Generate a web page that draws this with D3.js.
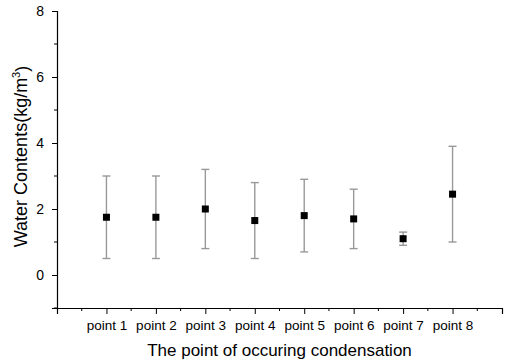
<!DOCTYPE html>
<html>
<head>
<meta charset="utf-8">
<script src="https://cdn.jsdelivr.net/npm/d3@7"></script>
<style>
  body { margin: 0; background: #fff; }
  text { font-family: "Liberation Sans", Arial, sans-serif; fill: #000; }
</style>
</head>
<body>
<svg id="chart" width="508" height="362"></svg>
<script>
const categories = ["point 1", "point 2", "point 3", "point 4", "point 5", "point 6", "point 7", "point 8"];
const means = [1.75, 1.75, 2.0, 1.65, 1.8, 1.7, 1.1, 2.45];
const lows = [0.5, 0.5, 0.8, 0.5, 0.7, 0.8, 0.9, 1.0];
const highs = [3.0, 3.0, 3.2, 2.8, 2.9, 2.6, 1.3, 3.9];
const yTicks = [0, 2, 4, 6, 8];

const margin = { top: 11, right: 6, bottom: 54, left: 57 };
const width = 508, height = 362;

const svg = d3.select("#chart");

const x = d3.scaleLinear().domain([0, 9]).range([margin.left, width - margin.right]);
const y = d3.scaleLinear().domain([-1, 8]).range([height - margin.bottom, margin.top]);

const points = categories.map((c, i) => ({ name: c, pos: i + 1, mean: means[i], lo: lows[i], hi: highs[i] }));

// x axis: major ticks at every integer, labels only for the categories
const xAxis = svg.append("g").attr("transform", `translate(0,${y(-1)})`);
xAxis.call(
  d3.axisBottom(x)
    .tickValues(d3.range(0, 10))
    .tickSize(6)
    .tickFormat((d) => (d >= 1 && d <= 8 ? categories[d - 1] : ""))
);
xAxis.selectAll("text").attr("font-size", 13.5).attr("dy", "0.95em");
xAxis.append("g")
  .selectAll("line")
  .data(d3.range(0.5, 9, 1))
  .join("line")
  .attr("x1", (d) => x(d))
  .attr("x2", (d) => x(d))
  .attr("y1", 0)
  .attr("y2", 3)
  .attr("stroke", "#000");

// y axis
const yAxis = svg.append("g").attr("transform", `translate(${x(0)},0)`);
yAxis.call(d3.axisLeft(y).tickValues(yTicks).tickSize(5).tickFormat(d3.format("d")));
yAxis.selectAll("text").attr("font-size", 14).attr("dx", "-0.35em");
yAxis.append("g")
  .selectAll("line")
  .data([-1, 1, 3, 5, 7])
  .join("line")
  .attr("x1", 0)
  .attr("x2", -3)
  .attr("y1", (d) => y(d))
  .attr("y2", (d) => y(d))
  .attr("stroke", "#000");

svg.selectAll(".domain").attr("stroke", "#000").attr("stroke-width", 1.2);
svg.selectAll(".tick line").attr("stroke", "#000");

// error bars
const bars = svg.append("g").attr("stroke", "#999").attr("stroke-width", 1.4);
bars.selectAll(".stem")
  .data(points)
  .join("line")
  .attr("class", "stem")
  .attr("x1", (d) => x(d.pos))
  .attr("x2", (d) => x(d.pos))
  .attr("y1", (d) => y(d.lo))
  .attr("y2", (d) => y(d.hi));
bars.selectAll(".cap")
  .data(points.flatMap((d) => [{ pos: d.pos, v: d.lo }, { pos: d.pos, v: d.hi }]))
  .join("line")
  .attr("class", "cap")
  .attr("x1", (d) => x(d.pos) - 4)
  .attr("x2", (d) => x(d.pos) + 4)
  .attr("y1", (d) => y(d.v))
  .attr("y2", (d) => y(d.v));

// markers
svg.append("g")
  .selectAll("rect")
  .data(points)
  .join("rect")
  .attr("x", (d) => x(d.pos) - 3.5)
  .attr("y", (d) => y(d.mean) - 3.5)
  .attr("width", 7)
  .attr("height", 7)
  .attr("fill", "#000");

// titles
svg.append("text")
  .attr("x", (x(0) + x(9)) / 2)
  .attr("y", 356)
  .attr("text-anchor", "middle")
  .attr("font-size", 17)
  .text("The point of occuring condensation");

const yTitle = svg.append("text")
  .attr("transform", `translate(27,${(y(-1) + y(8)) / 2 - 3}) rotate(-90)`)
  .attr("text-anchor", "middle")
  .attr("font-size", 18);
yTitle.append("tspan").text("Water Contents(kg/m");
yTitle.append("tspan").attr("font-size", 11).attr("dy", "-0.6em").text("3");
yTitle.append("tspan").attr("dy", "0.4em").text(")");
</script>
</body>
</html>
